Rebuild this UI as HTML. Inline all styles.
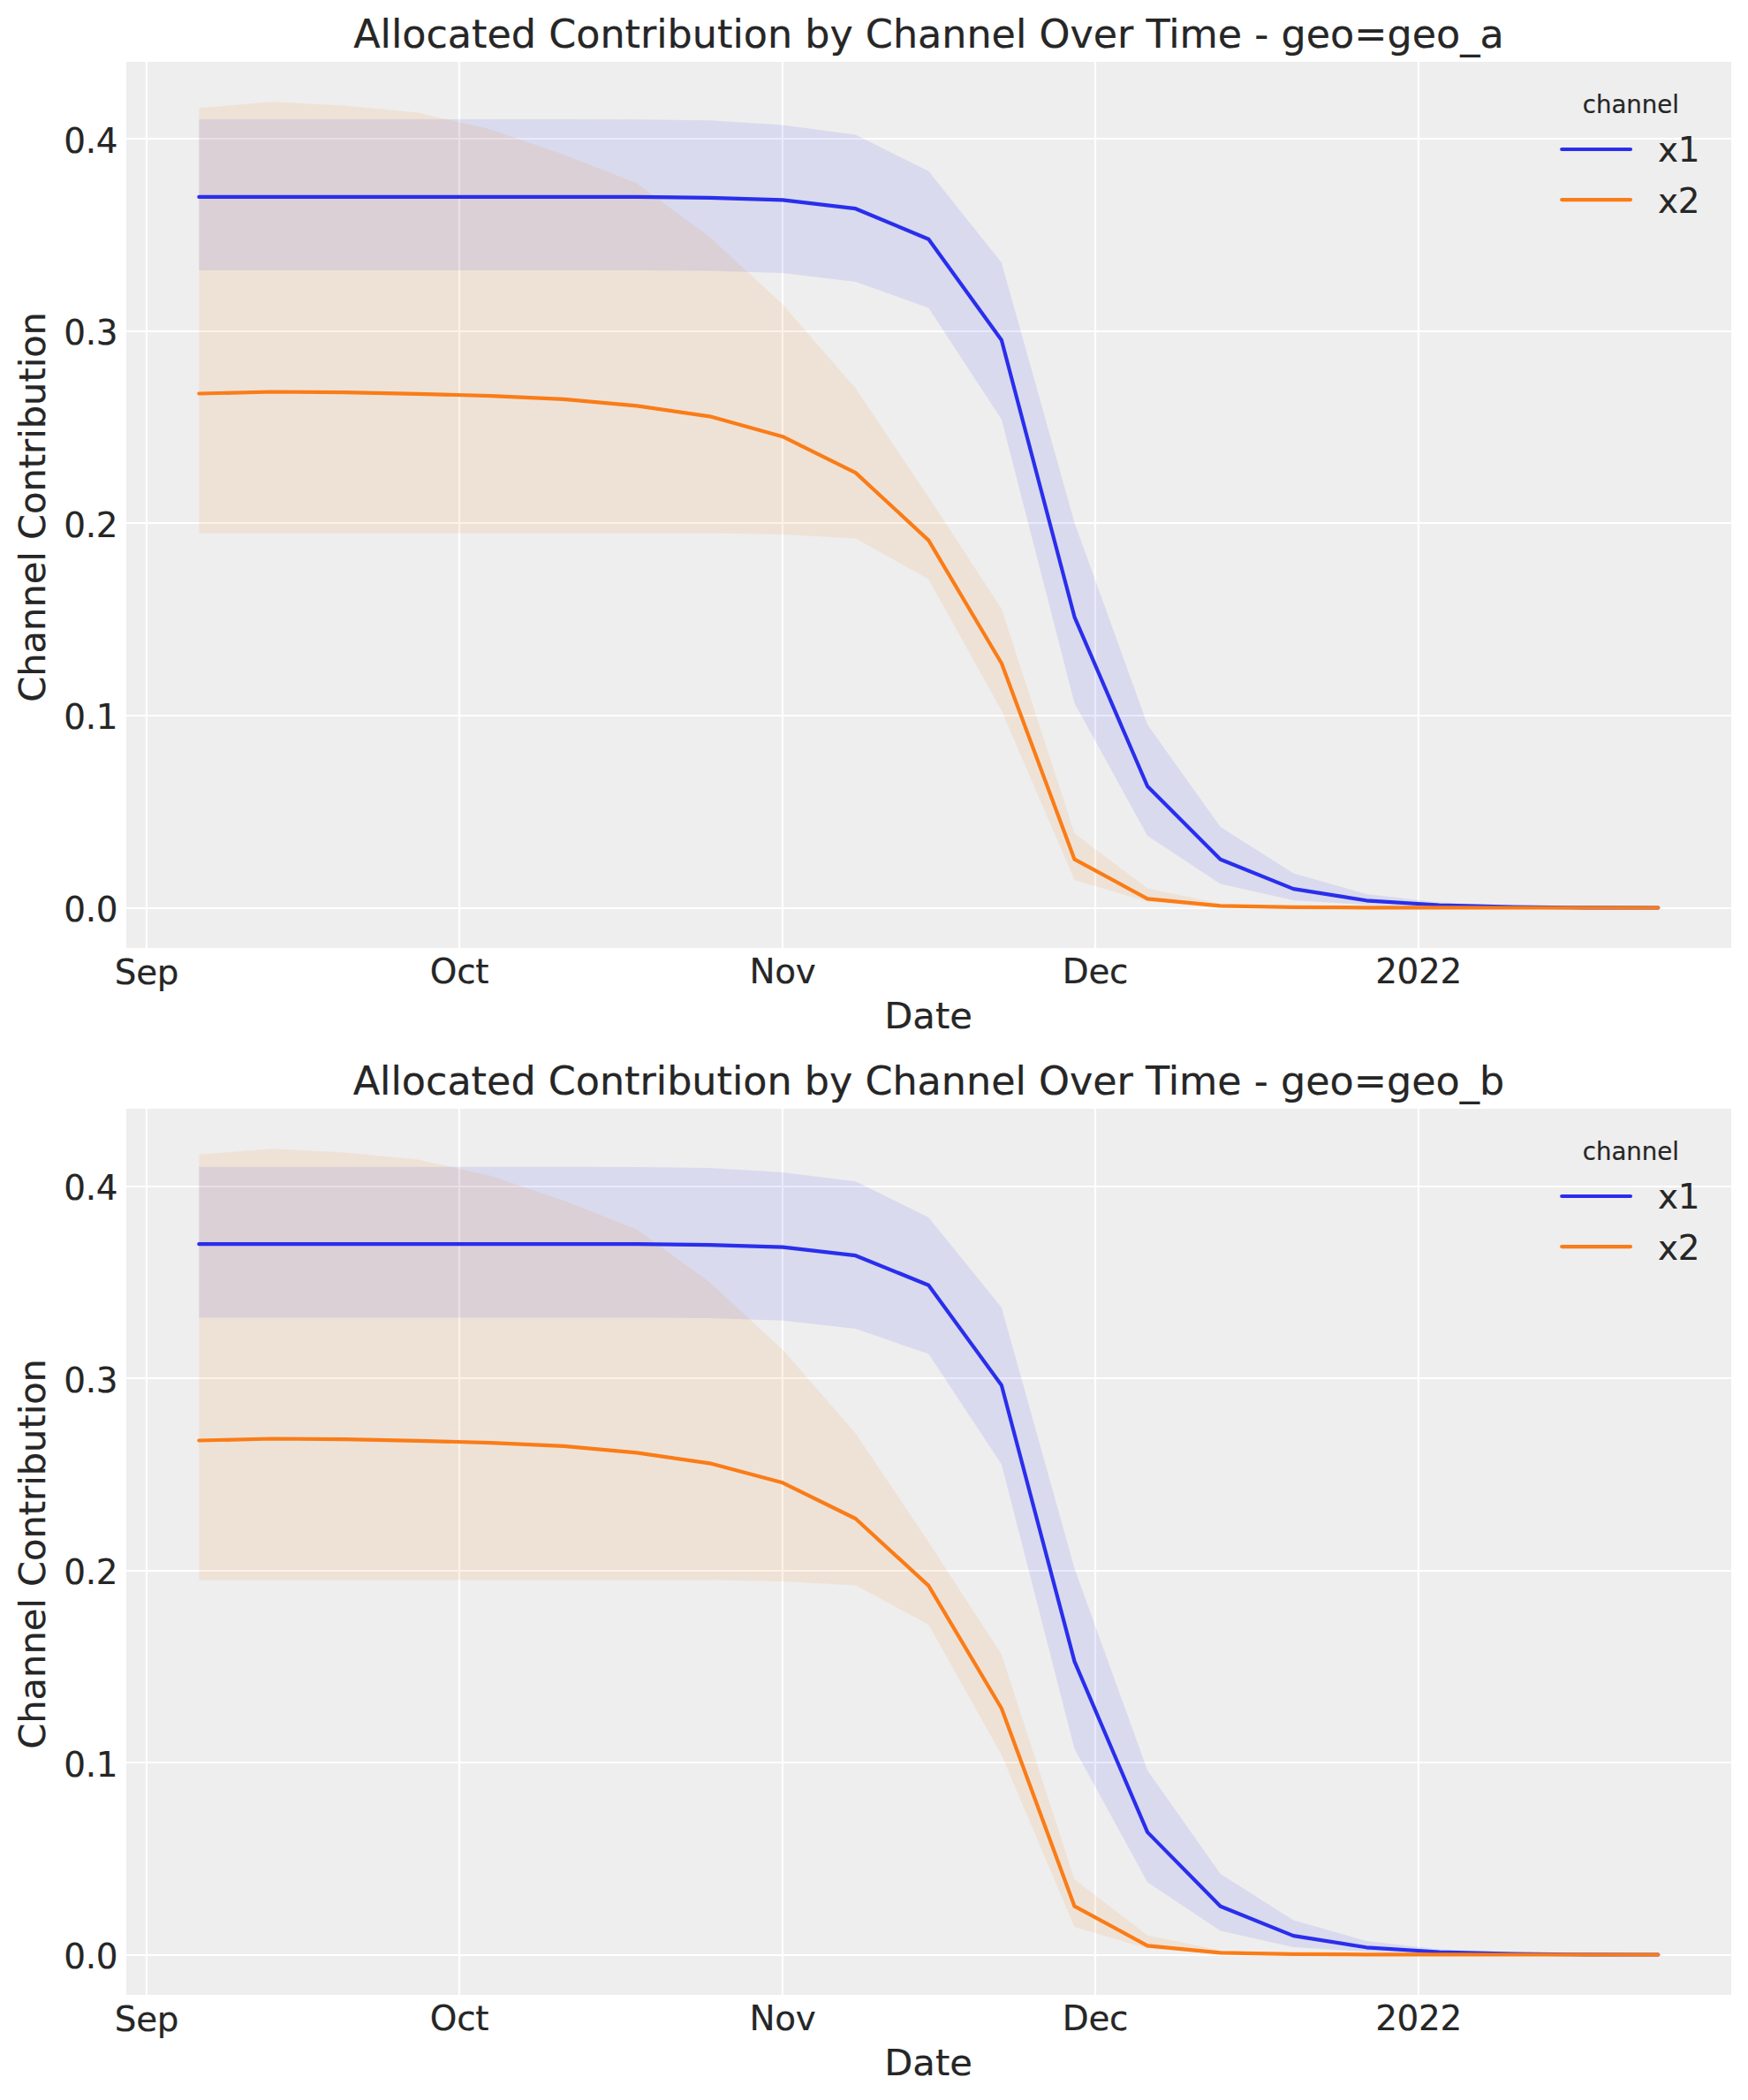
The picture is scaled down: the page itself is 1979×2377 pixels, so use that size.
<!DOCTYPE html>
<html lang="en">
<head>
<meta charset="utf-8">
<title>Allocated Contribution by Channel Over Time</title>
<style>
html,body{margin:0;padding:0;background:#ffffff;}
body{width:1979px;height:2377px;overflow:hidden;}
svg{display:block;}
text{font-family:"DejaVu Sans","Liberation Sans",sans-serif;fill:#262626;stroke:#262626;stroke-width:0.2px;}
.t16{font-size:44.44px;}
.t14{font-size:38.89px;letter-spacing:-0.3px;}
.t15{font-size:41.67px;}
.t10{font-size:27.6px;}
</style>
</head>
<body>
<svg width="1979" height="2377" viewBox="0 0 1979 2377">
<rect x="0" y="0" width="1979" height="2377" fill="#ffffff"/>
<g>
<rect x="143" y="70" width="1817" height="1003" fill="#eeeeee"/>
<g stroke="#ffffff" stroke-width="2.22">
<line x1="166" y1="70" x2="166" y2="1073"/>
<line x1="520" y1="70" x2="520" y2="1073"/>
<line x1="886" y1="70" x2="886" y2="1073"/>
<line x1="1240" y1="70" x2="1240" y2="1073"/>
<line x1="1606" y1="70" x2="1606" y2="1073"/>
<line x1="143" y1="157" x2="1960" y2="157"/>
<line x1="143" y1="375" x2="1960" y2="375"/>
<line x1="143" y1="592" x2="1960" y2="592"/>
<line x1="143" y1="810" x2="1960" y2="810"/>
<line x1="143" y1="1028" x2="1960" y2="1028"/>
</g>
<polygon points="225.3,134.9 307.9,134.9 390.5,134.9 473.1,134.9 555.7,134.9 638.3,134.9 720.9,135.2 803.5,136.3 886.1,141.5 968.7,152.6 1051.3,193.8 1133.9,297.2 1216.5,591.7 1299.1,820.3 1381.7,936.1 1464.3,988.6 1546.9,1012 1629.5,1021.5 1712.1,1024.8 1794.7,1026.5 1877.3,1027 1877.3,1027.9 1794.7,1027.7 1712.1,1027.3 1629.5,1026.5 1546.9,1024.1 1464.3,1019 1381.7,1000.5 1299.1,946.1 1216.5,795.9 1133.9,474.8 1051.3,348.5 968.7,319 886.1,309.1 803.5,306.5 720.9,305.9 638.3,305.9 555.7,305.9 473.1,305.9 390.5,305.9 307.9,305.9 225.3,305.9" fill="#2a2eec" fill-opacity="0.1"/>
<polygon points="225.3,122.3 307.9,115.2 390.5,119.5 473.1,127.5 555.7,146.6 638.3,174.9 720.9,207.6 803.5,268.2 886.1,344.6 968.7,439.6 1051.3,562.6 1133.9,689.1 1216.5,943.2 1299.1,1005.6 1381.7,1022.8 1464.3,1026.2 1546.9,1027.2 1629.5,1027.3 1712.1,1027.4 1794.7,1027.4 1877.3,1027.4 1877.3,1027.6 1794.7,1027.6 1712.1,1027.6 1629.5,1027.6 1546.9,1027.6 1464.3,1027.3 1381.7,1026.8 1299.1,1020.5 1216.5,996.2 1133.9,804.5 1051.3,655.7 968.7,609.5 886.1,604.9 803.5,603.5 720.9,603.5 638.3,603.5 555.7,603.5 473.1,603.5 390.5,603.5 307.9,603.5 225.3,603.5" fill="#fa7c17" fill-opacity="0.1"/>
<g fill="none" stroke-width="4.2" stroke-linecap="round" stroke-linejoin="round">
<polyline points="225.3,222.9 307.9,222.9 390.5,222.9 473.1,222.9 555.7,222.9 638.3,222.9 720.9,222.9 803.5,223.9 886.1,226.4 968.7,236.2 1051.3,270.7 1133.9,385 1216.5,698.3 1299.1,890 1381.7,972.7 1464.3,1006.1 1546.9,1019.3 1629.5,1024.5 1712.1,1026.6 1794.7,1027.4 1877.3,1027.5" stroke="#2a2eec"/>
<polyline points="225.3,445.5 307.9,443.5 390.5,444.1 473.1,445.8 555.7,448.1 638.3,451.8 720.9,459.3 803.5,471.3 886.1,494.2 968.7,535.1 1051.3,611.6 1133.9,750.7 1216.5,972.7 1299.1,1017.3 1381.7,1025.3 1464.3,1026.8 1546.9,1027.3 1629.5,1027.4 1712.1,1027.5 1794.7,1027.5 1877.3,1027.5" stroke="#fa7c17"/>
<line x1="1768.2" y1="169" x2="1846" y2="169" stroke="#2a2eec"/>
<line x1="1768.2" y1="226.1" x2="1846" y2="226.1" stroke="#fa7c17"/>
</g>
<text class="t16" x="1051.4" y="53.8" text-anchor="middle">Allocated Contribution by Channel Over Time - geo=geo_a</text>
<text class="t14" x="133.3" y="173" text-anchor="end">0.4</text>
<text class="t14" x="133.3" y="390" text-anchor="end">0.3</text>
<text class="t14" x="133.3" y="608" text-anchor="end">0.2</text>
<text class="t14" x="133.3" y="825" text-anchor="end">0.1</text>
<text class="t14" x="133.3" y="1043" text-anchor="end">0.0</text>
<text class="t14" x="166" y="1114.4" text-anchor="middle">Sep</text>
<text class="t14" x="520" y="1113.3" text-anchor="middle">Oct</text>
<text class="t14" x="886" y="1113.3" text-anchor="middle">Nov</text>
<text class="t14" x="1240" y="1113.3" text-anchor="middle">Dec</text>
<text class="t14" x="1606" y="1113.3" text-anchor="middle">2022</text>
<text class="t15" x="1051.1" y="1163.8" text-anchor="middle">Date</text>
<text class="t15" style="letter-spacing:-0.06px" transform="translate(51,573.9) rotate(-90)" text-anchor="middle">Channel Contribution</text>
<text class="t10" x="1846.4" y="127.8" text-anchor="middle">channel</text>
<text class="t14" x="1877.1" y="183.1">x1</text>
<text class="t14" x="1877.1" y="241.4">x2</text>
</g>
<g>
<rect x="143" y="1255" width="1817" height="1003" fill="#eeeeee"/>
<g stroke="#ffffff" stroke-width="2.22">
<line x1="166" y1="1255" x2="166" y2="2258"/>
<line x1="520" y1="1255" x2="520" y2="2258"/>
<line x1="886" y1="1255" x2="886" y2="2258"/>
<line x1="1240" y1="1255" x2="1240" y2="2258"/>
<line x1="1606" y1="1255" x2="1606" y2="2258"/>
<line x1="143" y1="1343" x2="1960" y2="1343"/>
<line x1="143" y1="1560" x2="1960" y2="1560"/>
<line x1="143" y1="1778" x2="1960" y2="1778"/>
<line x1="143" y1="1995" x2="1960" y2="1995"/>
<line x1="143" y1="2213" x2="1960" y2="2213"/>
</g>
<polygon points="225.3,1320.8 307.9,1320.8 390.5,1320.8 473.1,1320.8 555.7,1320.8 638.3,1320.8 720.9,1321.1 803.5,1321.9 886.1,1327.1 968.7,1337.3 1051.3,1377.9 1133.9,1479.9 1216.5,1775.3 1299.1,2003.9 1381.7,2121.1 1464.3,2173.6 1546.9,2197 1629.5,2206.5 1712.1,2209.8 1794.7,2211.5 1877.3,2212 1877.3,2212.9 1794.7,2212.7 1712.1,2212.3 1629.5,2211.5 1546.9,2209.1 1464.3,2204 1381.7,2185.5 1299.1,2130.5 1216.5,1979.5 1133.9,1657.5 1051.3,1532.6 968.7,1504 886.1,1494.7 803.5,1492.1 720.9,1491.5 638.3,1491.5 555.7,1491.5 473.1,1491.5 390.5,1491.5 307.9,1491.5 225.3,1491.5" fill="#2a2eec" fill-opacity="0.1"/>
<polygon points="225.3,1306.7 307.9,1300.2 390.5,1304.5 473.1,1312.5 555.7,1331 638.3,1359 720.9,1391.5 803.5,1451.5 886.1,1527.6 968.7,1622.2 1051.3,1745.6 1133.9,1872.4 1216.5,2127.3 1299.1,2190.6 1381.7,2207.8 1464.3,2211.2 1546.9,2212.2 1629.5,2212.3 1712.1,2212.4 1794.7,2212.4 1877.3,2212.4 1877.3,2212.6 1794.7,2212.6 1712.1,2212.6 1629.5,2212.6 1546.9,2212.6 1464.3,2212.3 1381.7,2211.8 1299.1,2205.5 1216.5,2181.2 1133.9,1986.6 1051.3,1839 968.7,1794.5 886.1,1789.9 803.5,1788.5 720.9,1788.5 638.3,1788.5 555.7,1788.5 473.1,1788.5 390.5,1788.5 307.9,1788.5 225.3,1788.5" fill="#fa7c17" fill-opacity="0.1"/>
<g fill="none" stroke-width="4.2" stroke-linecap="round" stroke-linejoin="round">
<polyline points="225.3,1408.2 307.9,1408.2 390.5,1408.2 473.1,1408.2 555.7,1408.2 638.3,1408.2 720.9,1408.2 803.5,1409.2 886.1,1411.7 968.7,1421.2 1051.3,1454.7 1133.9,1568 1216.5,1880.6 1299.1,2073.9 1381.7,2157.7 1464.3,2191.1 1546.9,2204.3 1629.5,2209.5 1712.1,2211.6 1794.7,2212.4 1877.3,2212.5" stroke="#2a2eec"/>
<polyline points="225.3,1630.5 307.9,1628.5 390.5,1629.1 473.1,1630.8 555.7,1633.1 638.3,1636.8 720.9,1644.3 803.5,1656.3 886.1,1678.3 968.7,1719 1051.3,1794.9 1133.9,1933.7 1216.5,2157.7 1299.1,2202.3 1381.7,2210.3 1464.3,2211.8 1546.9,2212.3 1629.5,2212.4 1712.1,2212.5 1794.7,2212.5 1877.3,2212.5" stroke="#fa7c17"/>
<line x1="1768.2" y1="1354" x2="1846" y2="1354" stroke="#2a2eec"/>
<line x1="1768.2" y1="1411.1" x2="1846" y2="1411.1" stroke="#fa7c17"/>
</g>
<text class="t16" x="1051.4" y="1238.8" text-anchor="middle">Allocated Contribution by Channel Over Time - geo=geo_b</text>
<text class="t14" x="133.3" y="1358" text-anchor="end">0.4</text>
<text class="t14" x="133.3" y="1576" text-anchor="end">0.3</text>
<text class="t14" x="133.3" y="1793" text-anchor="end">0.2</text>
<text class="t14" x="133.3" y="2011" text-anchor="end">0.1</text>
<text class="t14" x="133.3" y="2228" text-anchor="end">0.0</text>
<text class="t14" x="166" y="2299.4" text-anchor="middle">Sep</text>
<text class="t14" x="520" y="2298.3" text-anchor="middle">Oct</text>
<text class="t14" x="886" y="2298.3" text-anchor="middle">Nov</text>
<text class="t14" x="1240" y="2298.3" text-anchor="middle">Dec</text>
<text class="t14" x="1606" y="2298.3" text-anchor="middle">2022</text>
<text class="t15" x="1051.1" y="2348.8" text-anchor="middle">Date</text>
<text class="t15" style="letter-spacing:-0.06px" transform="translate(51,1758.9) rotate(-90)" text-anchor="middle">Channel Contribution</text>
<text class="t10" x="1846.4" y="1312.8" text-anchor="middle">channel</text>
<text class="t14" x="1877.1" y="1368.1">x1</text>
<text class="t14" x="1877.1" y="1426.4">x2</text>
</g>
</svg>
</body>
</html>
